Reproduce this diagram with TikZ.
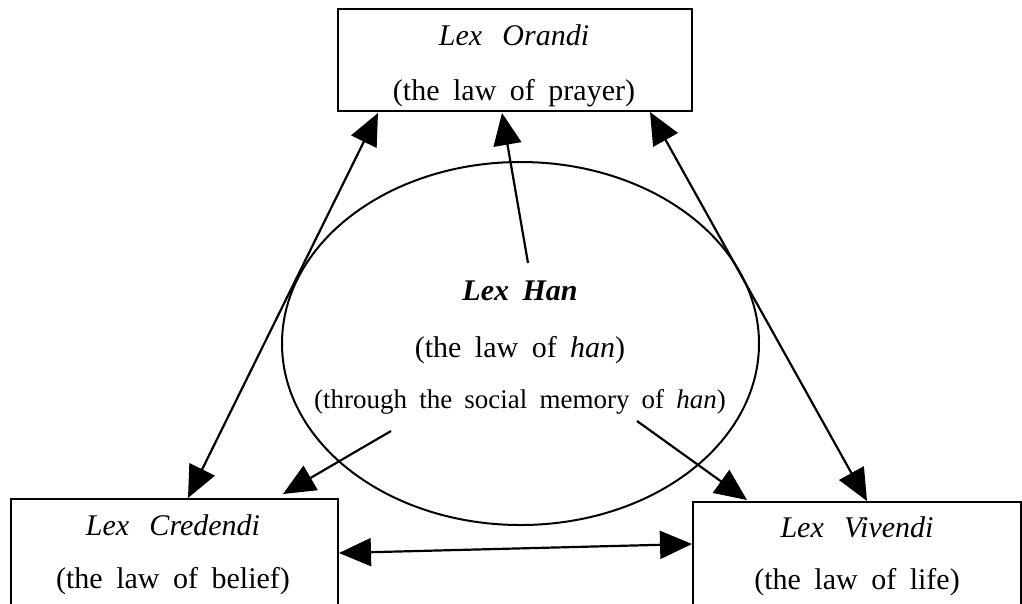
\documentclass[tikz,border=0pt]{standalone}
\usepackage{fontspec}
\setmainfont[WordSpace=1.8,ItalicFeatures={WordSpace=2.7}]{Liberation Serif}
\usetikzlibrary{arrows.meta,calc,shapes.geometric}
\begin{document}
\begin{tikzpicture}[x=1pt,y=-1pt,
  boxst/.style={draw,line width=2pt,rectangle,inner sep=0pt,anchor=north west},
  txt/.style={anchor=base,inner sep=0pt,font=\fontsize{30}{36}\selectfont},
  smalltxt/.style={anchor=base,inner sep=0pt,font=\fontsize{27}{32}\selectfont},
  arr/.style={line width=2.2pt,-{Triangle[length=32pt,width=28pt]}},
  darr/.style={line width=2.2pt,{Triangle[length=32pt,width=28pt]}-{Triangle[length=32pt,width=28pt]}}]
\useasboundingbox (0,0) rectangle (1022,603);
\clip (0,0) rectangle (1022,603);
% boxes
\node[boxst,minimum width=354pt,minimum height=102pt] (orandi) at (337,8) {};
\node[boxst,minimum width=327pt,minimum height=200pt] (credendi) at (10,498) {};
\node[boxst,minimum width=328pt,minimum height=200pt] (vivendi) at (692,501) {};
\node[draw,ellipse,line width=2pt,minimum width=477pt,minimum height=363pt,inner sep=0pt] (han) at (520.5,343.5) {};
% texts
\node[txt] (t1) at (514,45) {\itshape Lex Orandi};
\node[txt] (t2) at (514,100) {(the law of prayer)};
\node[txt] (t3) at (173,535) {\itshape Lex Credendi};
\node[txt] (t4) at (173,588) {(the law of belief)};
\node[txt] (t5) at (857,537) {\itshape Lex Vivendi};
\node[txt] (t6) at (857,589) {(the law of life)};
\node[txt] (t7) at (520,300) {\bfseries\itshape Lex Han};
\node[txt] (t8) at (520,357) {(the law of \textit{han})};
\node[smalltxt] (t9) at (520,408) {(through the social memory of \textit{han})};
% connectors
\coordinate (hanTop) at ($(han.center)+(7.5,-80.5)$);
\coordinate (hanL) at ($(han.center)+(-129.5,87.5)$);
\coordinate (hanR) at ($(han.center)+(116.5,77.5)$);
\draw[darr] ($(credendi.north west)+(178,0)$) -- ($(orandi.south west)+(41,1)$);
\draw[arr] (hanTop) -- ($(orandi.south west)+(165,1)$);
\draw[darr] ($(orandi.south west)+(313,0)$) -- ($(vivendi.north west)+(175,0)$);
\draw[arr] (hanL) -- ($(credendi.north west)+(273,-4)$);
\draw[arr] (hanR) -- ($(vivendi.north west)+(55,-1)$);
\draw[darr] ($(credendi.north east)+(0,55)$) -- ($(vivendi.north west)+(0,43)$);
\end{tikzpicture}
\end{document}
